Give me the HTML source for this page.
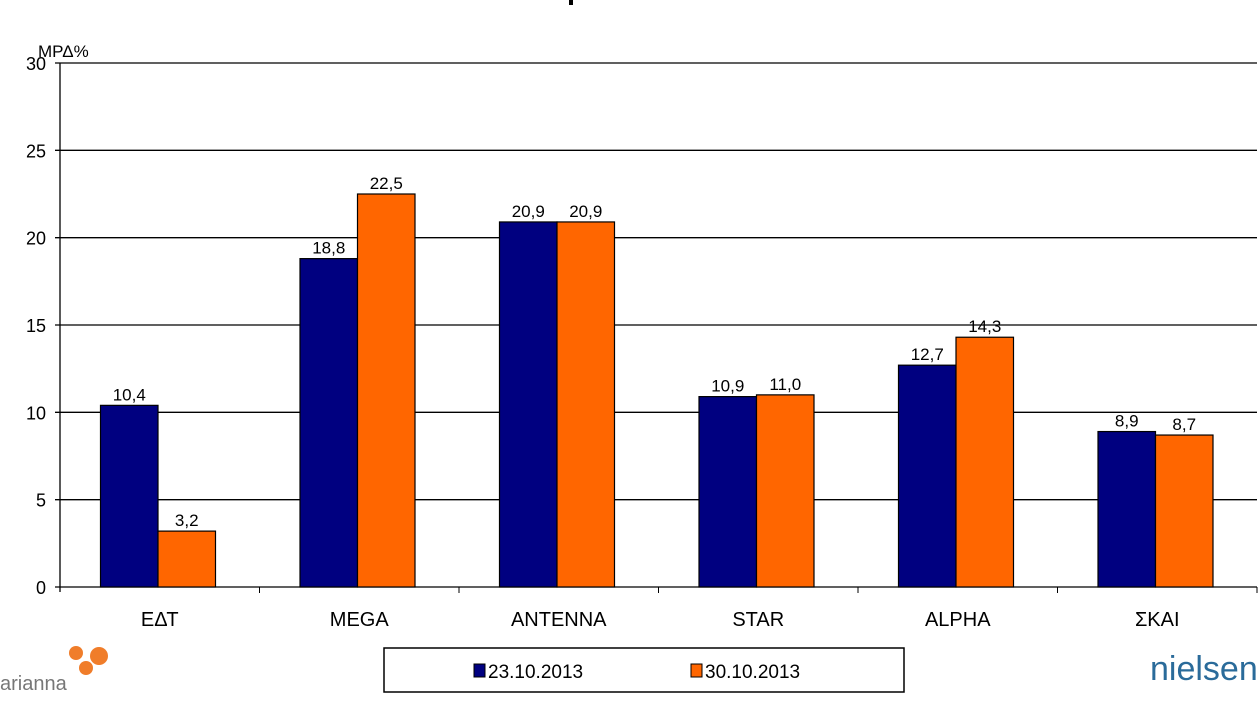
<!DOCTYPE html>
<html><head><meta charset="utf-8"><style>
body{margin:0;background:#fff;width:1260px;height:699px;overflow:hidden;font-family:"Liberation Sans","DejaVu Sans",sans-serif}
svg text{font-family:"Liberation Sans","DejaVu Sans",sans-serif}
</style></head><body>
<svg id="c" width="1260" height="699">
<rect x="569" y="0" width="4" height="5" fill="#000"/>
<text x="38" y="57" font-size="17">ΜΡΔ%</text>
<g id="grid"></g><g id="bars"></g><g id="labels"></g>
<g>
<rect x="384" y="648" width="520" height="44" fill="#fff" stroke="#000" stroke-width="1.5"/>
<rect x="474" y="664" width="11" height="13" fill="#000080" stroke="#000"/>
<text x="488" y="678" font-size="19">23.10.2013</text>
<rect x="691" y="664" width="11" height="13" fill="#ff6600" stroke="#000"/>
<text x="705" y="678" font-size="19">30.10.2013</text>
</g>
<g>
<circle cx="76" cy="653" r="7" fill="#f07d2a"/><circle cx="99" cy="656" r="9" fill="#f07d2a"/><circle cx="86" cy="668" r="7" fill="#f07d2a"/>
<text x="0" y="690" font-size="20" fill="#777">arianna</text>
</g>
<text x="1150" y="680" font-size="34" font-family="Liberation Serif" fill="#2a6b9a">nielsen</text>
</svg>
<script>
const categories=["ΕΔΤ","MEGA","ANTENNA","STAR","ALPHA","ΣΚΑΙ"];
const series1=[10.4,18.8,20.9,10.9,12.7,8.9];
const series2=[3.2,22.5,20.9,11.0,14.3,8.7];
const ticks=[0,5,10,15,20,25,30];
const NS="http://www.w3.org/2000/svg";
const x0=60,x1=1257,yTop=63,yBot=587,ymax=30;
const cw=(x1-x0)/categories.length;
const y=v=>yBot-(v/ymax)*(yBot-yTop);
function mk(t,a,p){const e=document.createElementNS(NS,t);for(const k in a)e.setAttribute(k,a[k]);p.appendChild(e);return e;}
const g=document.getElementById('grid'),b=document.getElementById('bars'),l=document.getElementById('labels');
ticks.forEach(t=>{
 const ln=mk('line',{x1:x0-5,x2:x1,y1:y(t),y2:y(t),stroke:'#000','stroke-width':1.3},g);
 
 
 const tx=mk('text',{x:x0-14,y:y(t)+7,'font-size':18,'text-anchor':'end'},g);tx.textContent=t;
 
 
});
const ax=mk('line',{x1:x0,x2:x0,y1:yTop,y2:yBot+5,stroke:'#000','stroke-width':1.3},g);


const fmt=v=>v.toFixed(1).replace('.',',');
categories.forEach((c,i)=>{
 const cx=x0+cw*i;
 const tk=mk('line',{x1:cx+cw,x2:cx+cw,y1:yBot,y2:yBot+6,stroke:'#000'},g);
 
 
 const bw=57.5,bx=cx+40.5;
 [[series1[i],'#000080',bx,'bar-23-10-'],[series2[i],'#ff6600',bx+bw,'bar-30-10-']].forEach(([v,col,xx,nm])=>{
  const r=mk('rect',{x:xx,y:y(v),width:bw,height:yBot-y(v),fill:col,stroke:'#000','stroke-width':1.2},b);
  
  
  const t=mk('text',{x:xx+bw/2,y:y(v)-5,'font-size':17,'text-anchor':'middle'},l);t.textContent=fmt(v);
  
  
 });
 const ct=mk('text',{x:cx+cw/2,y:626,'font-size':20,'text-anchor':'middle'},l);ct.textContent=c;
 
 
});
</script>
</body></html>
